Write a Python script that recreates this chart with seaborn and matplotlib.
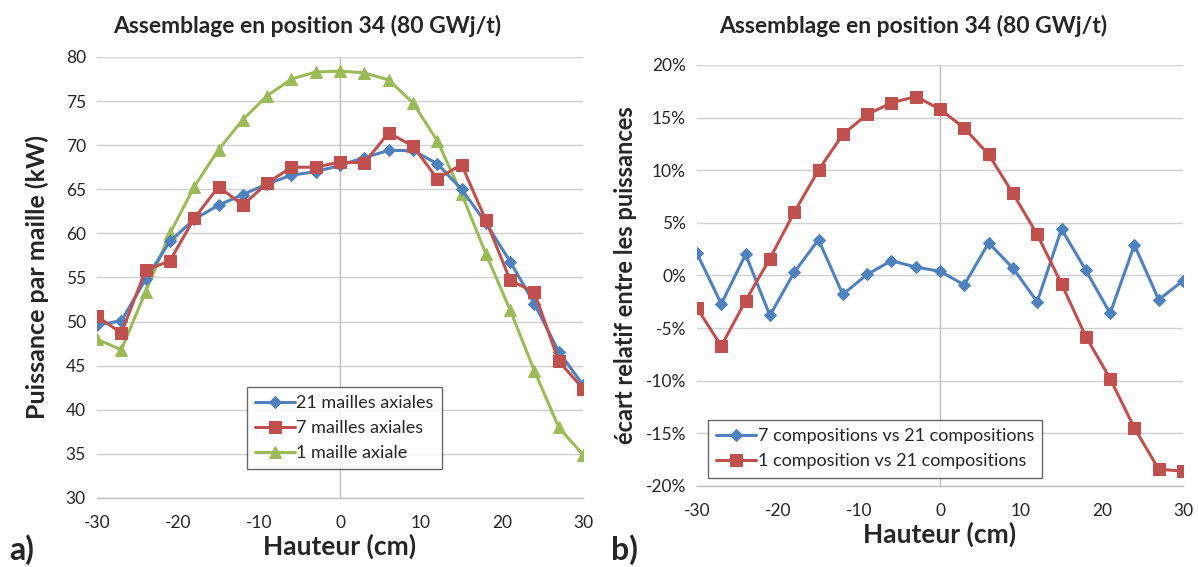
import matplotlib
matplotlib.use("Agg")
import matplotlib.pyplot as plt
from matplotlib.ticker import PercentFormatter
import numpy as np
import pandas as pd
import seaborn as sns

# axial heights (cm)
hauteur = [-30, -27, -24, -21, -18, -15, -12, -9, -6, -3, 0, 3, 6, 9, 12, 15, 18, 21, 24, 27, 30]

# a) power per mesh (kW)
p_21_mailles = [49.6, 50.1, 54.8, 59.1, 61.6, 63.2, 64.4, 65.6, 66.6, 67.0, 67.7,
                68.6, 69.4, 69.4, 67.9, 65.0, 61.2, 56.8, 52.0, 46.6, 42.8]
p_7_mailles = [50.6, 48.7, 55.8, 56.9, 61.7, 65.3, 63.2, 65.7, 67.5, 67.5, 68.1,
               68.0, 71.4, 69.9, 66.2, 67.8, 61.5, 54.7, 53.3, 45.5, 42.4]
p_1_maille = [48.0, 46.8, 53.4, 60.0, 65.3, 69.5, 72.9, 75.6, 77.5, 78.3, 78.4,
              78.2, 77.4, 74.8, 70.5, 64.5, 57.7, 51.3, 44.4, 38.0, 34.9]

# b) relative difference (%)
ecart_7_vs_21 = [2.1, -2.7, 2.0, -3.8, 0.3, 3.4, -1.8, 0.1, 1.4, 0.8, 0.4,
                 -0.9, 3.1, 0.7, -2.5, 4.4, 0.5, -3.6, 2.9, -2.3, -0.5]
ecart_1_vs_21 = [-3.1, -6.7, -2.4, 1.6, 6.0, 10.0, 13.4, 15.3, 16.4, 17.0, 15.8,
                 14.0, 11.5, 7.8, 3.9, -0.8, -5.8, -9.8, -14.5, -18.4, -18.6]

BLUE = "#4F81BD"
RED = "#C0504D"
GREEN = "#9BBB59"

sns.set_style("white")
plt.rcParams['font.family'] = ['Lato', 'DejaVu Sans']
plt.rcParams['axes.unicode_minus'] = False

fig = plt.figure(figsize=(11.98, 5.67), dpi=100)
ax1 = fig.add_axes([0.081, 0.1217, 0.4057, 0.7778])
ax2 = fig.add_axes([0.5818, 0.1429, 0.4057, 0.7425])

df_a = pd.DataFrame({'Hauteur': hauteur, '21': p_21_mailles, '7': p_7_mailles, '1': p_1_maille})
df_b = pd.DataFrame({'Hauteur': hauteur, '7v21': ecart_7_vs_21, '1v21': ecart_1_vs_21})

lw = 2.2
sns.lineplot(data=df_a, x='Hauteur', y='21', ax=ax1, color=BLUE, lw=lw, marker='D',
             markersize=6, markeredgecolor=BLUE, label='21 mailles axiales', zorder=3)
sns.lineplot(data=df_a, x='Hauteur', y='7', ax=ax1, color=RED, lw=lw, marker='s',
             markersize=8, markeredgecolor=RED, label='7 mailles axiales', zorder=4)
sns.lineplot(data=df_a, x='Hauteur', y='1', ax=ax1, color=GREEN, lw=lw, marker='^',
             markersize=8.5, markeredgecolor=GREEN, label='1 maille axiale', zorder=2)

sns.lineplot(data=df_b, x='Hauteur', y='7v21', ax=ax2, color=BLUE, lw=lw, marker='D',
             markersize=6, markeredgecolor=BLUE, label='7 compositions vs 21 compositions', zorder=3)
sns.lineplot(data=df_b, x='Hauteur', y='1v21', ax=ax2, color=RED, lw=lw, marker='s',
             markersize=8, markeredgecolor=RED, label='1 composition vs 21 compositions', zorder=4)

for ax in (ax1, ax2):
    ax.set_xlim(-30, 30)
    ax.set_xticks(range(-30, 31, 10))
    ax.grid(axis='y', color='#D0D0D0', lw=1.0)
    ax.grid(axis='x', visible=False)
    ax.axvline(0, color='#BFBFBF', lw=1.0, zorder=1)
    for s in ('top', 'right', 'left'):
        ax.spines[s].set_visible(False)
    ax.spines['bottom'].set_color('#BFBFBF')
    ax.spines['bottom'].set_linewidth(1.0)
    ax.tick_params(axis='x', direction='out', length=6, color='#BFBFBF', labelsize=12.5, pad=6)
    ax.tick_params(axis='y', length=0, labelsize=12.5, pad=8)
    ax.set_xlabel('Hauteur (cm)', fontsize=19, fontweight='bold', labelpad=2)

ax1.set_ylim(30, 80)
ax1.set_yticks(range(30, 81, 5))
ax1.set_ylabel('Puissance par maille (kW)', fontsize=18, fontweight='bold', labelpad=12)

ax2.set_ylim(-20, 20)
ax2.set_yticks(range(-20, 21, 5))
ax2.yaxis.set_major_formatter(PercentFormatter(xmax=100, decimals=0))
ax2.set_ylabel('écart relatif entre les puissances', fontsize=17, fontweight='bold', labelpad=6)

leg_kw = dict(fontsize=13, frameon=True, fancybox=False, edgecolor='#404040',
              handlelength=2.2, handletextpad=0.1, borderpad=0.45, labelspacing=0.5,
              borderaxespad=0)
l1 = ax1.legend(loc='lower left', bbox_to_anchor=(0.308, 0.065), **leg_kw)
l2 = ax2.legend(loc='lower left', bbox_to_anchor=(0.023, 0.02), **leg_kw)
for leg in (l1, l2):
    leg.get_frame().set_linewidth(1.0)

fig.text(0.256, 0.955, 'Assemblage en position 34 (80 GWj/t)', ha='center', va='center',
         fontsize=16.5, fontweight='bold')
fig.text(0.762, 0.955, 'Assemblage en position 34 (80 GWj/t)', ha='center', va='center',
         fontsize=16.5, fontweight='bold')
fig.text(0.008, 0.03, 'a)', fontsize=23, fontweight='bold', ha='left', va='center')
fig.text(0.51, 0.03, 'b)', fontsize=23, fontweight='bold', ha='left', va='center')

fig.savefig('out.png', dpi=100)
